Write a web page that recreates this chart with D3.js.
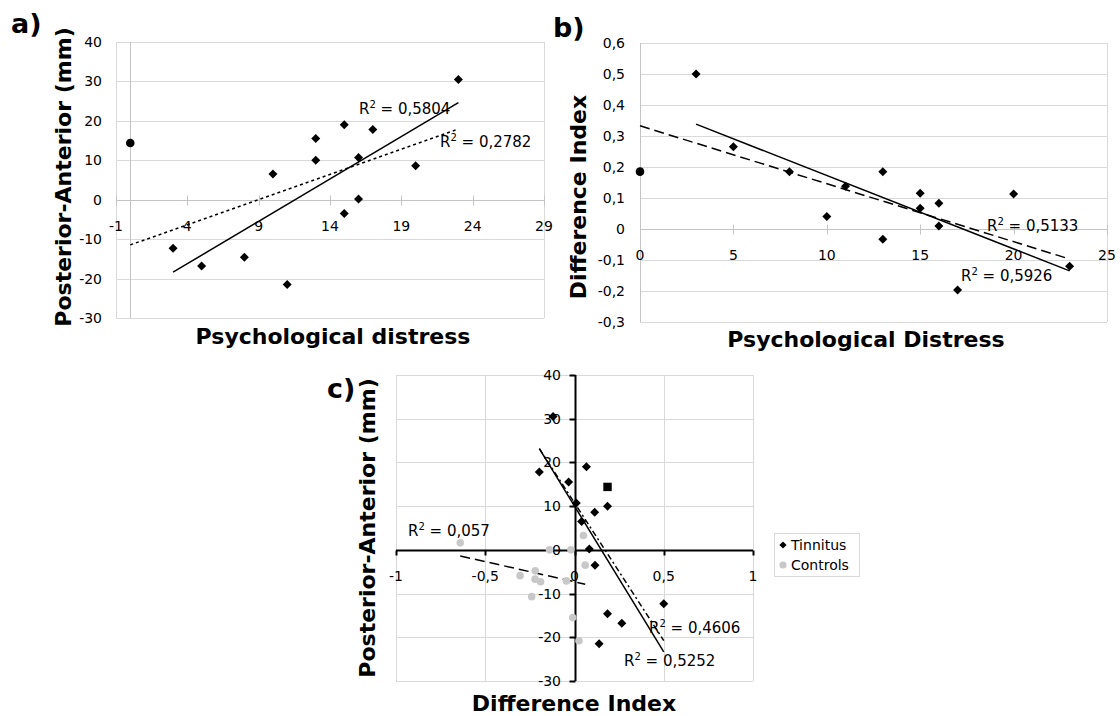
<!DOCTYPE html>
<html>
<head>
<meta charset="utf-8">
<script src="https://cdn.jsdelivr.net/npm/d3@7"></script>
<style>
  body { margin: 0; background: #fff; }
  text { font-family: "DejaVu Sans", Verdana, sans-serif; fill: #000; white-space: pre; }
</style>
</head>
<body>
<div id="chart"></div>
<script>
// tinnitus patients (one entry per subject)
var distress  = [3, 5, 8, 10, 11, 13, 13, 15, 15, 16, 16, 17, 20, 23];
var diffIndex = [0.5, 0.265, 0.185, 0.04, 0.138, 0.185, -0.033, 0.115, 0.067, 0.083, 0.01, -0.197, 0.113, -0.12];
var postAnt   = [-12.3, -16.8, -14.6, 6.5, -21.5, 10, 15.5, -3.5, 19, 0.2, 10.7, 17.8, 8.6, 30.5];

// the separately marked subject (circle in a/b, square in c)
var specialDistress = 0, specialDiff = 0.185, specialPA = 14.4;

// controls (panel c only)
var ctrlDiffIndex = [-0.64, 0.05, -0.14, -0.02, 0.06, -0.305, -0.22, -0.221, -0.19, -0.045, -0.24, -0.01, 0.025];
var ctrlPostAnt   = [1.6, 3.3, 0, 0, -3.5, -5.9, -4.8, -6.7, -7.3, -7.1, -10.7, -15.5, -20.8];

// R² values printed on the trend lines
var r2A = ["0,5804", "0,2782"];
var r2B = ["0,5133", "0,5926"];
var r2C = ["0,057", "0,4606", "0,5252"];

// ticks
var aXTicks = [-1, 4, 9, 14, 19, 24, 29];
var aYTicks = [-30, -20, -10, 0, 10, 20, 30, 40];
var bXTicks = [0, 5, 10, 15, 20, 25];
var bYTicks = [-0.3, -0.2, -0.1, 0, 0.1, 0.2, 0.3, 0.4, 0.5, 0.6];
var cXTicks = [-1, -0.5, 0, 0.5, 1];
var cYTicks = [-30, -20, -10, 0, 10, 20, 30, 40];

var legendNames = ["Tinnitus", "Controls"];

var fmt = function(d) { return String(+d.toFixed(2)).replace(".", ","); };

var svg = d3.select("#chart")
  .append("svg")
    .attr("width", 1120)
    .attr("height", 716);

// least squares line over the x range of the data
function fit(xs, ys) {
  var mx = d3.mean(xs), my = d3.mean(ys);
  var sxy = d3.sum(xs, function(v, i) { return (v - mx) * (ys[i] - my); });
  var sxx = d3.sum(xs, function(v) { return (v - mx) * (v - mx); });
  var b = sxy / sxx, a = my - b * mx;
  var e = d3.extent(xs);
  return [[e[0], a + b * e[0]], [e[1], a + b * e[1]]];
}

function diamond(s) { return "M0," + (-s) + "L" + s + ",0L0," + s + "L" + (-s) + ",0Z"; }

function r2Label(g, x, y, val) {
  var t = g.append("text").attr("x", x).attr("y", y).style("font-size", "15px");
  t.append("tspan").text("R");
  t.append("tspan").attr("dy", -6).style("font-size", "10px").text("2");
  t.append("tspan").attr("dy", 6).text(" = " + val);
}

// builds the frame of one panel, returns scales
function panel(p) {
  var x = d3.scaleLinear().domain(p.xDomain).range([p.left, p.right]);
  var y = d3.scaleLinear().domain(p.yDomain).range([p.bottom, p.top]);
  var g = svg.append("g");

  // horizontal grid
  g.selectAll(".hg").data(p.yTicks).enter().append("line")
    .attr("x1", p.left).attr("x2", p.right)
    .attr("y1", function(d) { return Math.round(y(d)) + 0.5; })
    .attr("y2", function(d) { return Math.round(y(d)) + 0.5; })
    .attr("stroke", "#d9d9d9");
  // vertical grid / borders
  g.selectAll(".vg").data(p.xGrid).enter().append("line")
    .attr("x1", function(d) { return Math.round(x(d)) + 0.5; })
    .attr("x2", function(d) { return Math.round(x(d)) + 0.5; })
    .attr("y1", p.top).attr("y2", p.bottom)
    .attr("stroke", "#d9d9d9");

  var x0 = Math.round(x(0)) + 0.5, y0 = Math.round(y(0)) + 0.5;

  // axes
  g.append("line").attr("x1", p.left).attr("x2", p.right).attr("y1", y0).attr("y2", y0)
    .attr("stroke", p.axisColor).attr("stroke-width", p.axisWidth);
  g.append("line").attr("x1", x0).attr("x2", x0).attr("y1", p.top).attr("y2", p.bottom)
    .attr("stroke", p.axisColor).attr("stroke-width", p.axisWidth);

  // x ticks
  g.selectAll(".xt").data(p.xTicks).enter().append("line")
    .attr("x1", function(d) { return Math.round(x(d)) + 0.5; })
    .attr("x2", function(d) { return Math.round(x(d)) + 0.5; })
    .attr("y1", y0 + p.xTickUp).attr("y2", y0 + 5)
    .attr("stroke", p.axisColor).attr("stroke-width", p.axisWidth);
  if (p.yTickMarks) {
    g.selectAll(".yt").data(p.yTicks).enter().append("line")
      .attr("x1", x0 - 6).attr("x2", x0)
      .attr("y1", function(d) { return Math.round(y(d)) + 0.5; })
      .attr("y2", function(d) { return Math.round(y(d)) + 0.5; })
      .attr("stroke", p.axisColor).attr("stroke-width", p.axisWidth);
  }

  // tick labels
  g.selectAll(".xl").data(p.xTicks).enter().append("text")
    .attr("x", function(d) { return x(d); })
    .attr("y", y0 + 30)
    .attr("text-anchor", "middle")
    .style("font-size", "14px")
    .text(fmt);
  g.selectAll(".yl").data(p.yTicks).enter().append("text")
    .attr("x", p.yLabelX)
    .attr("y", function(d) { return y(d) + 5; })
    .attr("text-anchor", "end")
    .style("font-size", "14px")
    .text(fmt);

  // axis titles
  g.append("text")
    .attr("x", p.xTitle[0]).attr("y", p.xTitle[1])
    .attr("text-anchor", "middle")
    .style("font-size", "22px").style("font-weight", "bold")
    .text(p.xTitleText);
  g.append("text")
    .attr("transform", "translate(" + p.yTitle[0] + "," + p.yTitle[1] + ") rotate(-90)")
    .attr("text-anchor", "middle")
    .style("font-size", "22px").style("font-weight", "bold")
    .text(p.yTitleText);

  // panel letter
  g.append("text")
    .attr("x", p.letter[0]).attr("y", p.letter[1])
    .style("font-size", "27px").style("font-weight", "bold")
    .text(p.letterText);

  return {x: x, y: y, g: g};
}

function drawLine(P, pts, dash) {
  P.g.append("line")
    .attr("x1", P.x(pts[0][0])).attr("y1", P.y(pts[0][1]))
    .attr("x2", P.x(pts[1][0])).attr("y2", P.y(pts[1][1]))
    .attr("stroke", "#000").attr("stroke-width", 1.5)
    .attr("stroke-dasharray", dash);
}

function drawDiamonds(P, xs, ys, s) {
  P.g.selectAll(".dm").data(xs).enter().append("path")
    .attr("d", diamond(s))
    .attr("transform", function(d, i) { return "translate(" + P.x(d) + "," + P.y(ys[i]) + ")"; })
    .attr("fill", "#000");
}

// ---------------- a) ----------------
var A = panel({
  left: 116, right: 544, top: 42, bottom: 318,
  xDomain: [-1, 29], yDomain: [-30, 40],
  xTicks: aXTicks, yTicks: aYTicks, xGrid: [-1, 29],
  axisColor: "#c4c4c4", axisWidth: 1, xTickUp: -5, yTickMarks: false,
  yLabelX: 102,
  xTitle: [333, 344], xTitleText: "Psychological distress",
  yTitle: [71, 177], yTitleText: "Posterior-Anterior (mm)",
  letter: [11, 33], letterText: "a)"
});
drawLine(A, fit(distress, postAnt), null);
drawLine(A, fit(distress.concat([specialDistress]), postAnt.concat([specialPA])), "3,3");
drawDiamonds(A, distress, postAnt, 4.5);
A.g.append("circle").attr("cx", A.x(specialDistress)).attr("cy", A.y(specialPA)).attr("r", 4.3).attr("fill", "#000");
r2Label(A.g, 359, 114, r2A[0]);
r2Label(A.g, 440, 147, r2A[1]);

// ---------------- b) ----------------
var B = panel({
  left: 640, right: 1107, top: 43, bottom: 322,
  xDomain: [0, 25], yDomain: [-0.3, 0.6],
  xTicks: bXTicks, yTicks: bYTicks, xGrid: [0, 25],
  axisColor: "#c4c4c4", axisWidth: 1, xTickUp: -5, yTickMarks: false,
  yLabelX: 625,
  xTitle: [866, 347], xTitleText: "Psychological Distress",
  yTitle: [586, 197], yTitleText: "Difference Index",
  letter: [553, 37], letterText: "b)"
});
drawLine(B, fit(distress, diffIndex), null);
drawLine(B, fit(distress.concat([specialDistress]), diffIndex.concat([specialDiff])), "10,5");
drawDiamonds(B, distress, diffIndex, 4.5);
B.g.append("circle").attr("cx", B.x(specialDistress)).attr("cy", B.y(specialDiff)).attr("r", 4.3).attr("fill", "#000");
r2Label(B.g, 987, 231, r2B[0]);
r2Label(B.g, 961, 281, r2B[1]);

// ---------------- c) ----------------
var C = panel({
  left: 396, right: 753, top: 375, bottom: 681,
  xDomain: [-1, 1], yDomain: [-30, 40],
  xTicks: cXTicks, yTicks: cYTicks, xGrid: [-1, -0.5, 0.5, 1],
  axisColor: "#000", axisWidth: 2, xTickUp: 0, yTickMarks: true,
  yLabelX: 561,
  xTitle: [574, 711], xTitleText: "Difference Index",
  yTitle: [375, 528], yTitleText: "Posterior-Anterior (mm)",
  letter: [327, 398], letterText: "c)"
});
drawLine(C, fit(ctrlDiffIndex, ctrlPostAnt), "10,5");
drawLine(C, fit(diffIndex, postAnt), null);
drawLine(C, fit(diffIndex.concat([specialDiff]), postAnt.concat([specialPA])), "6,3,2,3");
C.g.selectAll(".ctrl").data(ctrlDiffIndex).enter().append("circle")
  .attr("cx", function(d) { return C.x(d); })
  .attr("cy", function(d, i) { return C.y(ctrlPostAnt[i]); })
  .attr("r", 3.8)
  .attr("fill", "#c8c8c8");
drawDiamonds(C, diffIndex, postAnt, 4.5);
C.g.append("rect")
  .attr("x", C.x(specialDiff) - 4.2).attr("y", C.y(specialPA) - 4.2)
  .attr("width", 8.4).attr("height", 8.4).attr("fill", "#000");
r2Label(C.g, 408, 536, r2C[0]);
r2Label(C.g, 649, 633, r2C[1]);
r2Label(C.g, 624, 666, r2C[2]);

// legend
var lg = svg.append("g").attr("transform", "translate(774,533)");
lg.append("rect").attr("x", 0.5).attr("y", 0.5).attr("width", 85).attr("height", 43)
  .attr("fill", "#fff").attr("stroke", "#d9d9d9");
lg.append("path").attr("d", diamond(3.6)).attr("transform", "translate(9,12)").attr("fill", "#000");
lg.append("circle").attr("cx", 9).attr("cy", 32).attr("r", 3.6).attr("fill", "#c8c8c8");
lg.selectAll(".lt").data(legendNames).enter().append("text")
  .attr("x", 17)
  .attr("y", function(d, i) { return 17 + i * 20; })
  .style("font-size", "14px")
  .text(function(d) { return d; });
</script>
</body>
</html>
